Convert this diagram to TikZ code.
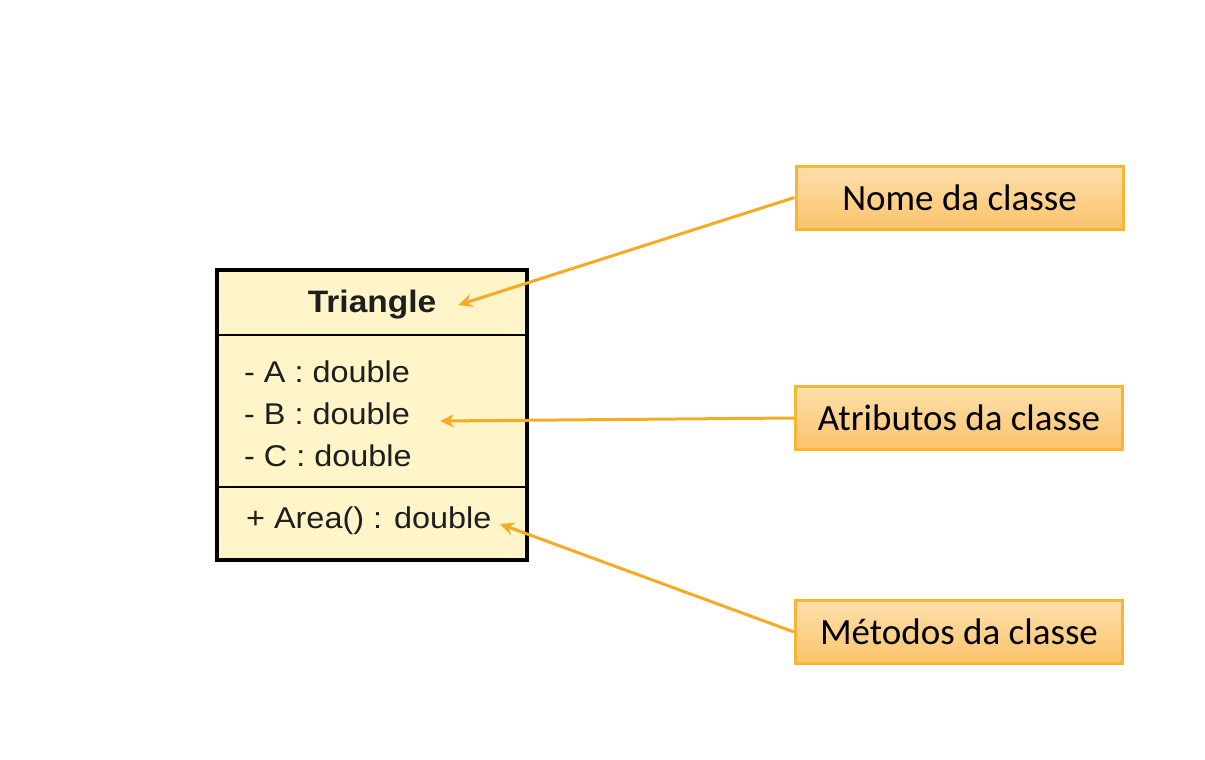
\documentclass[tikz,border=0pt]{standalone}
\usepackage{graphicx}
\usepackage{fontspec}
\setmainfont{Liberation Sans}
\newfontfamily\callout{Carlito}
\usetikzlibrary{arrows.meta}
\definecolor{umlfill}{RGB}{255,245,200}
\definecolor{calltop}{RGB}{253,224,172}
\definecolor{callbot}{RGB}{251,195,108}
\definecolor{callborder}{RGB}{249,180,50}
\definecolor{arrowcol}{RGB}{247,170,35}
\definecolor{umlink}{RGB}{30,30,30}
\newcommand{\wid}[1]{\scalebox{1.08}[1]{#1}}
\tikzset{
  callbox/.style={draw=callborder, line width=3pt, top color=calltop, bottom color=callbot,
    minimum width=327pt, minimum height=63pt, inner sep=0pt,
    font=\callout\fontsize{37}{42}\selectfont},
  umltext/.style={anchor=west, inner sep=0pt, font=\fontsize{30}{34}\selectfont, text=umlink},
  pointer/.style={draw=arrowcol, line width=3pt, -{Stealth[length=14pt,width=13pt]}},
}
\begin{document}
\begin{tikzpicture}[x=1pt,y=-1pt]
\useasboundingbox (0,0) rectangle (1205,760);
% UML class box
\node[draw=black, line width=4pt, fill=umlfill, minimum width=310pt, minimum height=290pt,
  inner sep=0pt] (uml) at (372,415) {};
\draw[line width=1.5pt] (216,335) -- (528,335);
\draw[line width=1.5pt] (216,487) -- (528,487);
\node[inner sep=0pt, font=\bfseries\fontsize{31}{34}\selectfont, text=umlink] (title) at (372,305) {\wid{Triangle}};
\node[umltext] (attA) at (244,372) {\wid{- A : double}};
\node[umltext] (attB) at (244,414) {\wid{- B : double}};
\node[umltext] (attC) at (244,456) {\wid{- C : double}};
\node[umltext] (meth) at (246,521) {\wid{+ Area() : double}};
% callouts
\node[callbox] (nome) at (959.5,197.5) {Nome da classe};
\node[callbox] (atrib) at (959,418) {Atributos da classe};
\node[callbox] (metod) at (959,632) {Métodos da classe};
% pointer ends
\coordinate (pNome) at ([xshift=22pt]title.east);
\coordinate (pAtrib) at (440,421);
\coordinate (pMetod) at (500,524);
\draw[pointer] (nome.west) -- (pNome);
\draw[pointer] (atrib.west) -- (pAtrib);
\draw[pointer] (metod.west) -- (pMetod);
\end{tikzpicture}
\end{document}
